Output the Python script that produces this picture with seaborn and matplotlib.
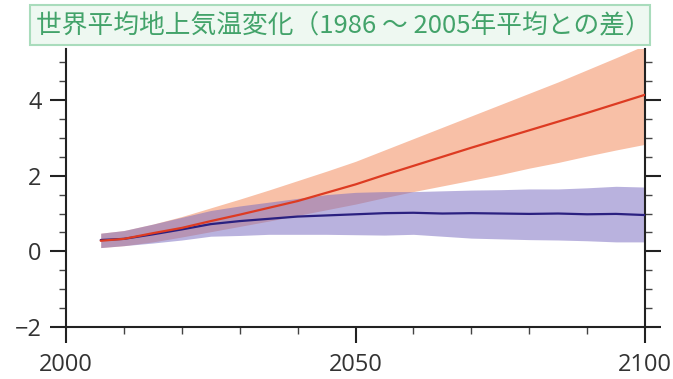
import numpy as np
import pandas as pd
import matplotlib
matplotlib.use("Agg")
import matplotlib.pyplot as plt
from matplotlib.patches import Rectangle
from matplotlib.ticker import MultipleLocator
import seaborn as sns

# ---- data ----
years = [2006, 2010, 2015, 2020, 2025, 2030, 2035, 2040, 2045, 2050,
         2055, 2060, 2065, 2070, 2075, 2080, 2085, 2090, 2095, 2100]

rcp85_mean = [0.28, 0.33, 0.48, 0.62, 0.80, 0.97, 1.15, 1.33, 1.55, 1.77,
              2.02, 2.26, 2.50, 2.74, 2.97, 3.20, 3.43, 3.66, 3.90, 4.14]
rcp85_high = [0.48, 0.55, 0.72, 0.92, 1.15, 1.38, 1.62, 1.87, 2.12, 2.38,
              2.68, 2.98, 3.28, 3.58, 3.88, 4.18, 4.48, 4.80, 5.12, 5.45]
rcp85_low = [0.10, 0.15, 0.25, 0.38, 0.52, 0.66, 0.80, 0.95, 1.10, 1.25,
             1.42, 1.58, 1.73, 1.88, 2.03, 2.20, 2.35, 2.52, 2.68, 2.83]

rcp26_mean = [0.30, 0.33, 0.45, 0.58, 0.72, 0.80, 0.86, 0.92, 0.95, 0.98,
              1.01, 1.02, 1.00, 1.01, 1.00, 0.99, 1.00, 0.98, 0.99, 0.96]
rcp26_high = [0.48, 0.55, 0.72, 0.90, 1.08, 1.20, 1.30, 1.40, 1.50, 1.56,
              1.58, 1.58, 1.60, 1.62, 1.63, 1.65, 1.65, 1.68, 1.72, 1.70]
rcp26_low = [0.10, 0.15, 0.22, 0.30, 0.40, 0.42, 0.45, 0.45, 0.45, 0.44,
             0.43, 0.45, 0.40, 0.35, 0.33, 0.31, 0.30, 0.28, 0.25, 0.25]

x_ticks = [2000, 2050, 2100]
y_ticks = [-2, 0, 2, 4]
y_tick_labels = ["\u22122", "0", "2", "4"]
title = "世界平均地上気温変化（1986 ～ 2005年平均との差）"

df = pd.DataFrame({
    "year": years * 2,
    "temp": rcp85_mean + rcp26_mean,
    "scenario": ["RCP8.5"] * len(years) + ["RCP2.6"] * len(years),
})

sns.set_theme(style="white")
plt.rcParams["font.family"] = ["Open Sans", "DejaVu Sans"]

fig = plt.figure(figsize=(6.73, 3.79), dpi=100)
ax = fig.add_axes([66 / 673, 1 - 327 / 379, (645 - 66) / 673, (327 - 49) / 379])

# bands
ax.fill_between(years, rcp85_low, rcp85_high, color="#f8c0a7", lw=0, zorder=1)
ax.fill_between(years, rcp26_low, rcp26_high, color="#7a6cc0", alpha=0.52, lw=0, zorder=2)

# lines
sns.lineplot(data=df, x="year", y="temp", hue="scenario",
             hue_order=["RCP2.6", "RCP8.5"],
             palette={"RCP8.5": "#dd3b22", "RCP2.6": "#2a2080"},
             linewidth=1.6, legend=False, ax=ax, zorder=3)

ax.set_xlim(2000, 2100)
ax.set_ylim(-2, 5.35)
ax.set_xticks(x_ticks)
ax.set_yticks(y_ticks)
ax.set_yticklabels(y_tick_labels)
ax.xaxis.set_minor_locator(MultipleLocator(10))
ax.yaxis.set_minor_locator(MultipleLocator(0.5))
ax.set_xlabel("")
ax.set_ylabel("")

for side in ["left", "right", "bottom"]:
    ax.spines[side].set_visible(True)
    ax.spines[side].set_color("#222222")
    ax.spines[side].set_linewidth(1.5)
ax.spines["top"].set_visible(False)

ax.tick_params(axis="both", which="major", direction="out", length=11.5,
               width=1.5, color="#222222", labelsize=17, labelcolor="#333333")
ax.tick_params(axis="both", which="minor", direction="out", length=5,
               width=1.0, color="#444444")
ax.tick_params(axis="y", which="both", left=True, right=True, labelright=False, pad=6)
ax.tick_params(axis="x", which="both", bottom=True, top=False, pad=7)

# title box
fig.patches.append(Rectangle((30 / 673, 1 - 45 / 379), 620 / 673, 40 / 379,
                             transform=fig.transFigure, facecolor="#eef8f1",
                             edgecolor="#a9dcbc", lw=1.5, zorder=0))
fig.text(343 / 673, 1 - 25 / 379, title, ha="center", va="center",
         fontsize=18.5, color="#43a36a",
         family=["Noto Sans CJK JP", "DejaVu Sans"])

fig.savefig("out.png", dpi=100)
